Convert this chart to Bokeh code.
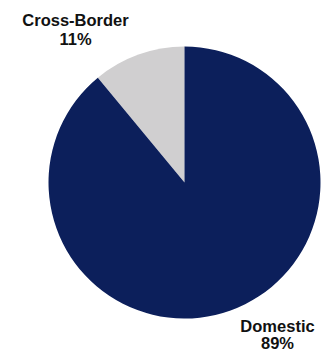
import math
from bokeh.plotting import figure
from bokeh.models import Range1d
from bokeh.core.properties import value
from bokeh.embed import file_html
from bokeh.resources import INLINE

categories = ["Cross-Border", "Domestic"]
shares = [11, 89]
colors = ["#d0cfd0", "#0c1f5b"]
# label anchor: center x, vertical middles of the two lines (pixel coords, top-down)
label_pos = [(75, 19, 38), (277, 325, 342)]

W, H = 324, 353
p = figure(width=W, height=H, x_range=Range1d(0, W), y_range=Range1d(0, H),
           output_backend="svg", toolbar_location=None, min_border=0)
p.axis.visible = False
p.grid.visible = False
p.outline_line_color = None
p.background_fill_color = "white"

cx, cy, r = 184, H - 182, 136
total = sum(shares)
start = math.pi / 2
starts, ends = [], []
for s in shares:
    ang = 2 * math.pi * s / total
    starts.append(start)
    ends.append(start + ang)
    start += ang

p.wedge(x=[cx] * 2, y=[cy] * 2, radius=r, start_angle=starts, end_angle=ends,
        fill_color=colors, line_color=None)

for (lx, m1, m2), cat, s in zip(label_pos, categories, shares):
    p.text(x=[lx, lx], y=[H - m1, H - m2], text=[cat, f"{s}%"], text_align="center",
           text_baseline="middle", text_font=value("Liberation Sans"),
           text_font_style="bold", text_font_size="16.5px", text_color="#111111")

open("out.html", "w").write(file_html(p, INLINE))
